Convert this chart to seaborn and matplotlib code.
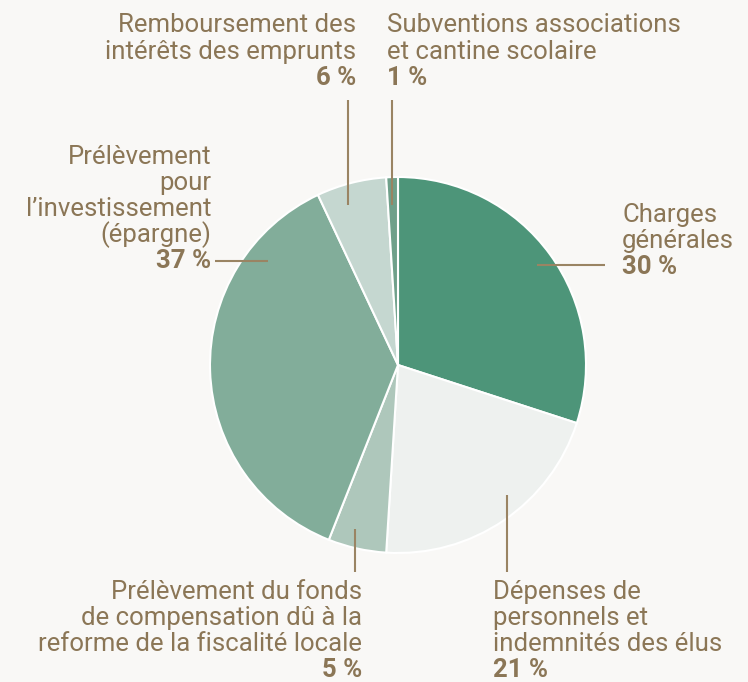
import matplotlib
matplotlib.use("Agg")
import matplotlib.pyplot as plt
import seaborn as sns

# budget shares (%), clockwise from top
categories = [
    "Charges générales",
    "Dépenses de personnels et indemnités des élus",
    "Prélèvement du fonds de compensation",
    "Prélèvement pour l'investissement",
    "Remboursement des intérêts des emprunts",
    "Subventions associations et cantine scolaire",
]
shares = [30, 21, 5, 37, 6, 1]
colors = ["#4d9579", "#eef1ef", "#aec7bb", "#82ad9a", "#c5d7d0", "#6fa08a"]

BG = "#f9f8f6"
TXT = "#8b7656"
LINE = "#9a8463"

sns.set_style("white")
plt.rcParams["font.family"] = ["Roboto", "DejaVu Sans"]

W, H = 748, 682
fig = plt.figure(figsize=(W / 100, H / 100), dpi=100, facecolor=BG)
cx, cy, r = 398, 365, 188
ax = fig.add_axes([(cx - r) / W, (H - cy - r) / H, 2 * r / W, 2 * r / H])
ax.set_facecolor(BG)
ax.pie(shares, colors=colors, startangle=90, counterclock=False, radius=1,
       wedgeprops=dict(edgecolor="white", linewidth=1.5))
ax.set_xlim(-1, 1)
ax.set_ylim(-1, 1)
ax.axis("off")


def d(px, py):
    return (px - cx) / r, (cy - py) / r


def leader(p0, p1):
    (x0, y0), (x1, y1) = d(*p0), d(*p1)
    ax.plot([x0, x1], [y0, y1], color=LINE, lw=1.5, clip_on=False, solid_capstyle="butt")


def block(px, ys, lines, pct, ha):
    for y, t in zip(ys, lines):
        fig.text(px / W, 1 - y / H, t, ha=ha, va="center", color=TXT, fontsize=18.5)
    fig.text(px / W, 1 - ys[-1] / H - 26 / H, f"{pct} %", ha=ha, va="center",
             color=TXT, fontsize=18.5, fontweight="bold")


leader((537, 265), (605, 265))
leader((507, 495), (507, 572))
leader((355, 529), (355, 572))
leader((215, 261), (268, 261))
leader((348, 100), (348, 205))
leader((392, 100), (392, 205))

block(622, [215, 241], ["Charges", "générales"], shares[0], "left")
block(493, [592, 618, 644], ["Dépenses de", "personnels et", "indemnités des élus"], shares[1], "left")
block(362, [592, 618, 644], ["Prélèvement du fonds", "de compensation dû à la",
                             "reforme de la fiscalité locale"], shares[2], "right")
block(211, [157, 183, 209, 235], ["Prélèvement", "pour", "l\u2019investissement", "(épargne)"],
      shares[3], "right")
block(356, [25, 52], ["Remboursement des", "intérêts des emprunts"], shares[4], "right")
block(387, [25, 52], ["Subventions associations", "et cantine scolaire"], shares[5], "left")

fig.savefig("out.png", dpi=100, facecolor=BG)
